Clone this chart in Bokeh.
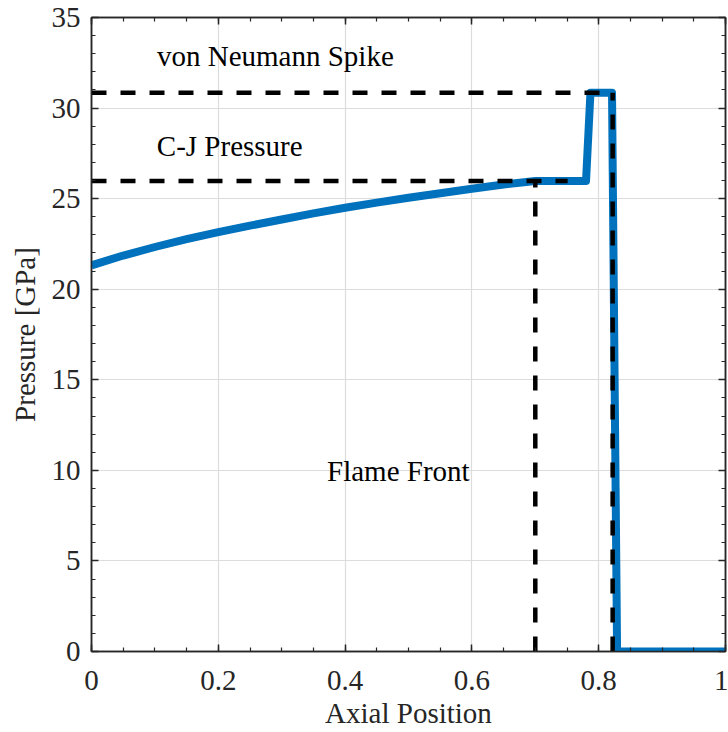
from bokeh.plotting import figure
from bokeh.models import Range1d, LinearAxis, Label, FixedTicker
from bokeh.embed import file_html
from bokeh.resources import INLINE

# Data
pos = [0.0, 0.05, 0.1, 0.15, 0.2, 0.25, 0.3, 0.35, 0.4, 0.45, 0.5, 0.55, 0.6, 0.65, 0.7,
       0.78, 0.787, 0.821, 0.829, 1.0]
pressure = [21.32, 21.86, 22.33, 22.76, 23.15, 23.51, 23.85, 24.19, 24.5, 24.78, 25.05, 25.3, 25.55, 25.78, 25.97,
            25.97, 30.85, 30.85, 0.0, 0.0]

cj_pressure = 25.97
vn_spike = 30.85
flame_x = 0.70
shock_x = 0.822
cj_line_end = 0.751

labels_text = ["von Neumann Spike", "C-J Pressure", "Flame Front"]
labels_x = [0.29, 0.218, 0.484]
labels_y = [32.9, 27.9, 9.96]

x_ticks = [0, 0.2, 0.4, 0.6, 0.8, 1]
y_ticks = [0, 5, 10, 15, 20, 25, 30, 35]
x_minor = [i * 0.05 for i in range(21)]
y_minor = list(range(36))

FONT = "Liberation Serif"
FS = "29px"

p = figure(width=728, height=732, output_backend="svg", toolbar_location=None,
           x_range=Range1d(0, 1), y_range=Range1d(0, 35),
           min_border_left=91, min_border_right=3, min_border_top=17, min_border_bottom=81)
p.xaxis.visible = False
p.yaxis.visible = False
p.background_fill_color = "white"
p.border_fill_color = "white"
p.outline_line_color = "#262626"
p.outline_line_width = 1.5

for g, t in ((p.xgrid, x_ticks), (p.ygrid, y_ticks)):
    g.grid_line_color = "#dcdcdc"
    g.grid_line_width = 1.2
    g.ticker = FixedTicker(ticks=t)

def make_axis(cls_ticks, minor, show_labels, label=None, standoff=10, label_standoff=8):
    ax = LinearAxis(ticker=FixedTicker(ticks=cls_ticks, minor_ticks=minor))
    ax.major_tick_in = 7
    ax.major_tick_out = 0
    ax.minor_tick_in = 4
    ax.minor_tick_out = 0
    ax.axis_line_color = "#262626"
    ax.axis_line_width = 1.5
    ax.major_tick_line_color = "#262626"
    ax.minor_tick_line_color = "#262626"
    ax.major_tick_line_width = 1.5
    ax.minor_tick_line_width = 1.2
    if show_labels:
        ax.major_label_text_font = FONT
        ax.major_label_text_font_size = FS
        ax.major_label_text_color = "#262626"
        ax.major_label_standoff = standoff
        if label:
            ax.axis_label = label
            ax.axis_label_text_font = FONT
            ax.axis_label_text_font_size = FS
            ax.axis_label_text_font_style = "normal"
            ax.axis_label_text_color = "#262626"
            ax.axis_label_standoff = label_standoff
    else:
        ax.major_label_text_font_size = "0px"
        ax.major_label_text_color = None
        ax.major_label_standoff = 0
    return ax

bx = make_axis(x_ticks, x_minor, True, "Axial Position", standoff=19, label_standoff=4)
bx.major_label_overrides = {0: "0", 1: "1"}
ly = make_axis(y_ticks, y_minor, True, "Pressure [GPa]", standoff=11, label_standoff=8)
tx = make_axis(x_ticks, x_minor, False)
ry = make_axis(y_ticks, y_minor, False)
p.add_layout(bx, "below")
p.add_layout(ly, "left")
p.add_layout(tx, "above")
p.add_layout(ry, "right")

# pressure profile
p.line(pos, pressure, line_color="#0072BD", line_width=8, line_join="round")

# dashed reference lines
dash = dict(line_color="black", line_width=4.5, line_dash="15 14")
p.line([0, shock_x], [vn_spike, vn_spike], **dash)
p.line([0, cj_line_end], [cj_pressure, cj_pressure], **dash)
p.line([flame_x, flame_x], [0, cj_pressure], **dash)
p.line([shock_x, shock_x], [0, vn_spike], **dash)

for t, x, y in zip(labels_text, labels_x, labels_y):
    p.add_layout(Label(x=x, y=y, text=t, text_font=FONT, text_font_size=FS,
                       text_color="black", text_align="center", text_baseline="middle"))

open("out.html", "w").write(file_html(p, INLINE))
